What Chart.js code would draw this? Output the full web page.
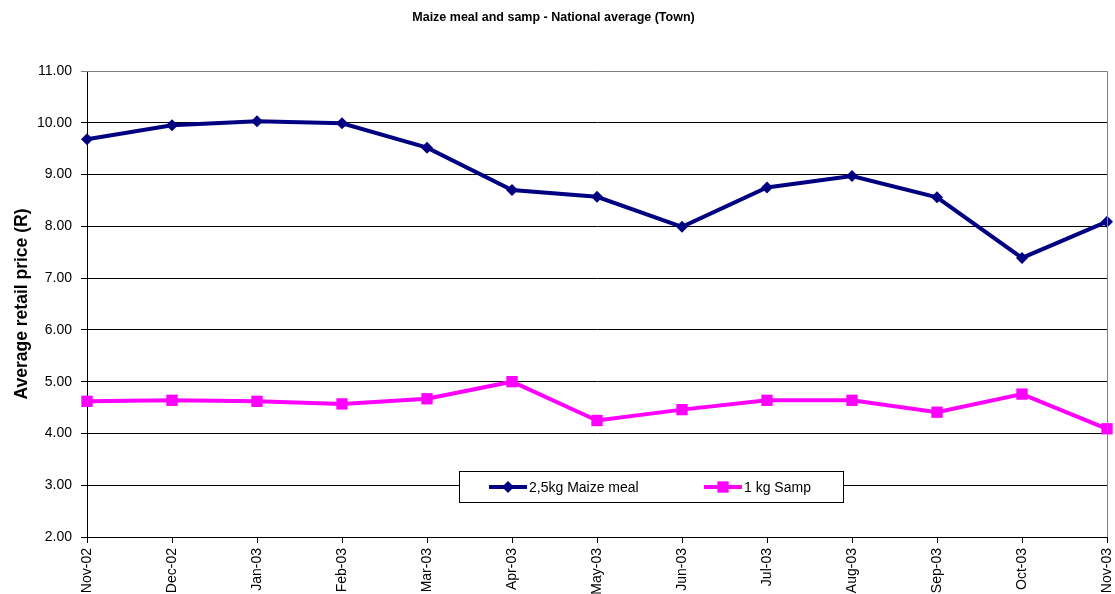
<!DOCTYPE html>
<html>
<head>
<meta charset="utf-8">
<style>
  html, body { margin: 0; padding: 0; background: #fff; overflow: hidden; }
  #wrap { width: 1115px; height: 594px; }
</style>
<script src="https://cdn.jsdelivr.net/npm/chart.js@4.4.0/dist/chart.umd.min.js"></script>
</head>
<body>
<div id="wrap"><canvas id="priceChart" width="1115" height="594"></canvas></div>
<script>
const months = ['Nov-02', 'Dec-02', 'Jan-03', 'Feb-03', 'Mar-03', 'Apr-03', 'May-03',
  'Jun-03', 'Jul-03', 'Aug-03', 'Sep-03', 'Oct-03', 'Nov-03'];
const maizeMeal = [9.68, 9.95, 10.03, 9.99, 9.52, 8.70, 8.57, 7.99, 8.75, 8.97, 8.56, 7.39, 8.09];
const samp = [4.62, 4.64, 4.62, 4.57, 4.67, 5.00, 4.25, 4.46, 4.64, 4.64, 4.41, 4.76, 4.09];
const seriesNames = ['2,5kg Maize meal', '1 kg Samp'];

const navy = '#000080';
const magenta = '#FF00FF';
const fontFamily = '"Liberation Sans", Arial, sans-serif';

// Excel-like plot border (top + right) and the legend box that sits inside the plot area
const frameAndLegend = {
  id: 'frameAndLegend',
  afterDatasetsDraw(chart) {
    const { ctx, chartArea } = chart;
    ctx.save();
    ctx.strokeStyle = '#808080';
    ctx.lineWidth = 1;
    ctx.beginPath();
    ctx.moveTo(chartArea.left, chartArea.top + 0.5);
    ctx.lineTo(chartArea.right + 0.5, chartArea.top + 0.5);
    ctx.lineTo(chartArea.right + 0.5, chartArea.bottom);
    ctx.stroke();

    const box = { x: 459.5, y: 471.5, w: 384, h: 31 };
    ctx.fillStyle = '#ffffff';
    ctx.fillRect(box.x, box.y, box.w, box.h);
    ctx.strokeStyle = '#000000';
    ctx.strokeRect(box.x, box.y, box.w, box.h);

    const cy = box.y + box.h / 2;
    const items = [
      { x: 489, color: navy, style: 'rectRot', r: 6, text: seriesNames[0] },
      { x: 704, color: magenta, style: 'rect', r: 8, text: seriesNames[1] }
    ];
    items.forEach((it) => {
      ctx.strokeStyle = it.color;
      ctx.lineWidth = 4;
      ctx.beginPath();
      ctx.moveTo(it.x, cy);
      ctx.lineTo(it.x + 38, cy);
      ctx.stroke();
      ctx.fillStyle = it.color;
      Chart.helpers.drawPoint(ctx, { pointStyle: it.style, radius: it.r, borderWidth: 0 }, it.x + 19, cy);
      ctx.fillStyle = '#000';
      ctx.font = '14px ' + fontFamily;
      ctx.textAlign = 'left';
      ctx.textBaseline = 'middle';
      ctx.fillText(it.text, it.x + 40, cy + 1);
    });
    ctx.restore();
  }
};

const tickFont = { family: fontFamily, size: 14 };

new Chart(document.getElementById('priceChart'), {
  type: 'line',
  plugins: [frameAndLegend],
  data: {
    labels: months,
    datasets: [
      {
        label: seriesNames[0],
        data: maizeMeal,
        borderColor: navy,
        backgroundColor: navy,
        borderWidth: 4,
        pointStyle: 'rectRot',
        pointRadius: 6,
        pointBorderWidth: 0,
        tension: 0
      },
      {
        label: seriesNames[1],
        data: samp,
        borderColor: magenta,
        backgroundColor: magenta,
        borderWidth: 4,
        pointStyle: 'rect',
        pointRadius: 8,
        pointBorderWidth: 0,
        tension: 0
      }
    ]
  },
  options: {
    responsive: false,
    animation: false,
    devicePixelRatio: 1,
    layout: { padding: { left: 0, right: 8, top: 0, bottom: 0 } },
    plugins: {
      legend: { display: false },
      tooltip: { enabled: false },
      title: {
        display: true,
        text: 'Maize meal and samp - National average (Town)',
        color: '#000',
        font: { family: fontFamily, size: 12.5, weight: 'bold' },
        padding: { top: 10, bottom: 46 }
      }
    },
    scales: {
      x: {
        offset: false,
        afterFit(scale) {
          scale.height = 57;
          scale.paddingRight = 0;
        },
        grid: {
          drawOnChartArea: false,
          drawTicks: true,
          tickLength: 6,
          color: '#000'
        },
        border: { display: true, color: '#000', width: 1 },
        ticks: {
          color: '#000',
          font: tickFont,
          minRotation: 90,
          maxRotation: 90,
          autoSkip: false,
          padding: 5
        }
      },
      y: {
        min: 2,
        max: 11,
        afterFit(scale) { scale.width = 87; },
        grid: {
          color: (c) => (c.tick && c.tick.value === 11 ? '#808080' : '#000'),
          lineWidth: 1,
          tickLength: 6,
          drawTicks: true
        },
        border: { display: true, color: '#000', width: 1 },
        ticks: {
          stepSize: 1,
          color: '#000',
          font: tickFont,
          padding: 9,
          callback: (v) => Number(v).toFixed(2)
        },
        title: {
          display: true,
          text: 'Average retail price (R)',
          color: '#000',
          font: { family: fontFamily, size: 17.5, weight: 'bold' },
          padding: { top: 12, bottom: 0 }
        }
      }
    }
  }
});
</script>
</body>
</html>
